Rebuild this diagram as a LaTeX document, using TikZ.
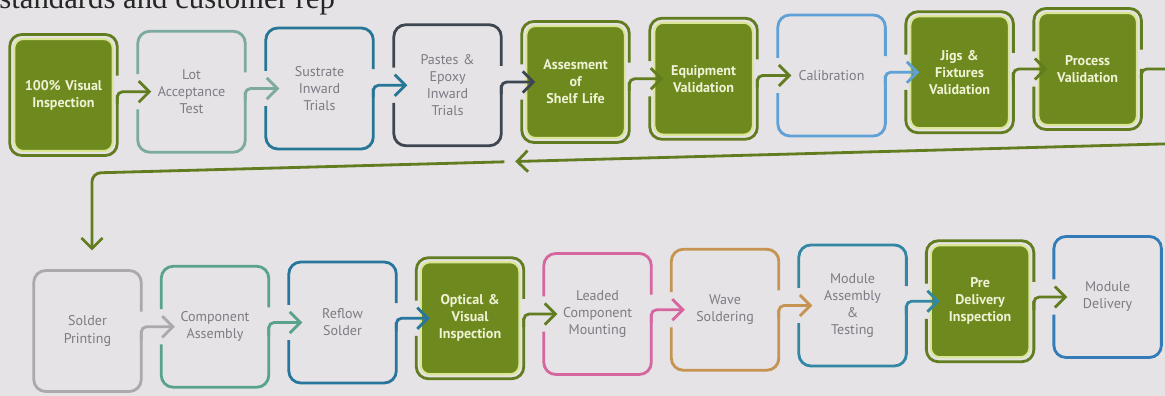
\documentclass[tikz,border=0pt]{standalone}
\usepackage{fontspec}
\setmainfont{PT Sans}
\newfontfamily\printfont{Liberation Serif}
\usetikzlibrary{arrows.meta,positioning,calc}
\definecolor{paper}{RGB}{229,227,229}
\definecolor{leafgreen}{RGB}{110,138,30}
\definecolor{leafpale}{RGB}{218,230,150}
\definecolor{leafdark}{RGB}{98,124,32}
\definecolor{lotteal}{RGB}{125,170,160}
\definecolor{trialblue}{RGB}{38,118,150}
\definecolor{pasteslate}{RGB}{62,70,82}
\definecolor{calblue}{RGB}{95,160,215}
\definecolor{printgrey}{RGB}{172,168,172}
\definecolor{asmteal}{RGB}{88,162,142}
\definecolor{reflowblue}{RGB}{40,118,158}
\definecolor{leadpink}{RGB}{214,102,160}
\definecolor{waveamber}{RGB}{198,148,82}
\definecolor{testblue}{RGB}{52,134,165}
\definecolor{shipblue}{RGB}{52,124,184}
\definecolor{labelgrey}{RGB}{128,122,132}
\definecolor{labelcream}{RGB}{240,242,214}
\newcommand{\frameoff}{0.09cm}
% open outline round a step: node, colour, half gap left, top of gap right
\newcommand{\frameit}[4]{%
  \draw[frame,#2] ([shift={(-\frameoff,#3)}]#1.west) -- ([shift={(-\frameoff,\frameoff)}]#1.north west)
    -- ([shift={(\frameoff,\frameoff)}]#1.north east) -- ([shift={(\frameoff,#4)}]#1.east);
  \draw[frame,#2] ([xshift=\frameoff]#1.east) -- ([shift={(\frameoff,-\frameoff)}]#1.south east)
    -- ([shift={(-\frameoff,-\frameoff)}]#1.south west) -- ([shift={(-\frameoff,-#3)}]#1.west);}

\begin{document}
\begin{tikzpicture}[
    stepbox/.style={rectangle,rounded corners=0.18cm,minimum width=1.96cm,minimum height=2.24cm,
      inner sep=1pt,outer sep=0pt,align=center,text width=1.9cm,
      font=\fontsize{8}{9.7}\selectfont,text=labelgrey},
    leafbox/.style={stepbox,fill=leafgreen,draw=leafpale,line width=1.2pt,
      text=labelcream,font=\fontsize{8}{9.7}\selectfont\bfseries},
    frame/.style={line width=1.6pt,rounded corners=0.24cm},
    link/.style={line width=1.6pt,rounded corners=3pt,-{Straight Barb[length=6pt,width=12pt]}},
    toprow/.style={right=0.59cm of #1,yshift=0.65mm},
    lowrow/.style={right=0.58cm of #1,yshift=0.85mm}]
  \useasboundingbox (0,0) rectangle (23.3,7.92);
  \fill[paper] (0,0) rectangle (23.3,7.92);
  \node[anchor=base west,inner sep=0pt,font=\printfont\fontsize{17.5}{20}\selectfont,text=black!85]
    (head) at (-0.02,7.75) {standards and customer rep};
  % first row
  \node[leafbox] (vis) at (1.27,6.02) {100\% Visual\\Inspection};
  \node[stepbox,toprow=vis] (lot) {Lot\\Acceptance\\Test};
  \node[stepbox,toprow=lot] (sub) {Sustrate\\Inward\\Trials};
  \node[stepbox,toprow=sub] (paste) {Pastes \&\\Epoxy\\Inward\\Trials};
  \node[leafbox,toprow=paste] (shelf) {Assesment\\of\\Shelf Life};
  \node[leafbox,toprow=shelf] (equip) {Equipment\\Validation};
  \node[stepbox,toprow=equip] (calib) {Calibration};
  \node[leafbox,toprow=calib] (jigs) {Jigs \&\\Fixtures\\Validation};
  \node[leafbox,toprow=jigs] (proc) {Process\\Validation};
  % second row
  \node[stepbox] (print) at (1.75,1.30) {Solder\\Printing};
  \node[stepbox,lowrow=print] (place) {Component\\Assembly};
  \node[stepbox,lowrow=place] (reflow) {Reflow\\Solder};
  \node[leafbox,lowrow=reflow] (aoi) {Optical \&\\Visual\\Inspection};
  \node[stepbox,lowrow=aoi] (lead) {Leaded\\Component\\Mounting};
  \node[stepbox,lowrow=lead] (wave) {Wave\\Soldering};
  \node[stepbox,lowrow=wave] (modasm) {Module\\Assembly\\\&\\Testing};
  \node[leafbox,lowrow=modasm] (pdi) {Pre\\Delivery\\Inspection};
  \node[stepbox,lowrow=pdi] (ship) {Module\\Delivery};
  % outlines
  \foreach \n/\c/\l/\r in {vis/leafdark/0pt/11pt, lot/lotteal/10pt/11pt, sub/trialblue/10pt/11pt,
      paste/pasteslate/10pt/11pt, shelf/leafdark/10pt/11pt, equip/leafdark/10pt/11pt,
      calib/calblue/10pt/11pt, jigs/leafdark/10pt/11pt, proc/leafdark/10pt/11pt,
      print/printgrey/0pt/11pt, place/asmteal/10pt/11pt, reflow/reflowblue/10pt/11pt,
      aoi/leafdark/10pt/11pt, lead/leadpink/10pt/11pt, wave/waveamber/10pt/11pt,
      modasm/testblue/10pt/11pt, pdi/leafdark/10pt/11pt, ship/shipblue/10pt/0pt}
    \frameit{\n}{\c}{\l}{\r};
  % links
  \foreach \a/\b/\c in {vis/lot/leafdark, lot/sub/lotteal, sub/paste/trialblue, paste/shelf/pasteslate,
      shelf/equip/leafdark, equip/calib/leafdark, calib/jigs/calblue, jigs/proc/leafdark,
      print/place/printgrey, place/reflow/asmteal, reflow/aoi/reflowblue, aoi/lead/leafdark,
      lead/wave/leadpink, wave/modasm/waveamber, modasm/pdi/testblue, pdi/ship/leafdark}
    \draw[link,\c] ([shift={(\frameoff,-5pt)}]\a.east) |- ([xshift=1.8mm]\b.west);
  % way back to the second row
  \coordinate (retR) at (23.6,5.05);
  \coordinate (retC) at (1.84,4.46);
  \coordinate (retM) at ($(retC)!0.389!(retR)$);
  \coordinate (retN) at ($(retC)!0.379!(retR)$);
  \coordinate (dropT) at ($(print.north -| retC)+(0,4.9mm)$);
  \draw[link,leafdark] ([shift={(\frameoff,-5pt)}]proc.east) |- ([xshift=1.4cm]proc.east) |- (retR) -- (retM);
  \draw[link,leafdark,rounded corners=5pt] (retN) -- (retC) -- (dropT);
\end{tikzpicture}
\end{document}
